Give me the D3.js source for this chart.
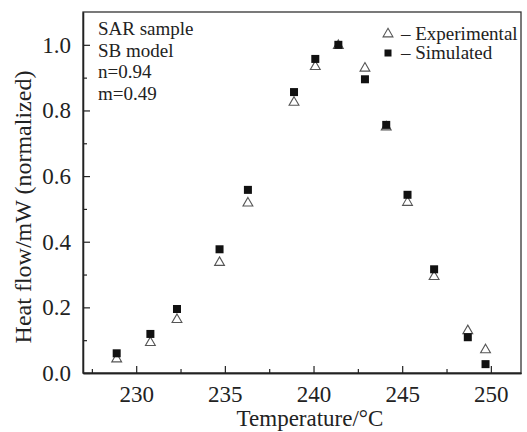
<!DOCTYPE html>
<html>
<head>
<meta charset="utf-8">
<script src="https://cdn.jsdelivr.net/npm/d3@7"></script>
<style>
  body { margin: 0; background: #fff; }
  svg text { font-family: "Liberation Serif", "DejaVu Serif", serif; fill: #222; }
</style>
</head>
<body>
<script>
// temperatures (shared by both series)
const temps = [228.9, 230.8, 232.3, 234.7, 236.3, 238.9, 240.1, 241.4, 242.9, 244.1, 245.3, 246.8, 248.7, 249.7];
const experimental = [0.045, 0.095, 0.165, 0.339, 0.52, 0.827, 0.936, 1.0, 0.931, 0.752, 0.522, 0.296, 0.131, 0.073];
const simulated = [0.060, 0.119, 0.195, 0.377, 0.558, 0.856, 0.957, 1.0, 0.895, 0.756, 0.543, 0.316, 0.109, 0.027];

const xTicks = [230, 235, 240, 245, 250];
const xMinor = [227.5, 232.5, 237.5, 242.5, 247.5];
const yTicks = [0, 0.2, 0.4, 0.6, 0.8, 1.0];
const yMinor = [0.1, 0.3, 0.5, 0.7, 0.9];
const notes = ["SAR sample", "SB model", "n=0.94", "m=0.49"];

const W = 527, H = 432;
const margin = {top: 12, right: 6, bottom: 59, left: 83};
const width = W - margin.left - margin.right,
      height = H - margin.top - margin.bottom;

const svg = d3.select("body").append("svg")
  .attr("width", W)
  .attr("height", H);

const g = svg.append("g")
  .attr("transform", "translate(" + margin.left + "," + margin.top + ")");

const x = d3.scaleLinear().domain([227, 251.7]).range([0, width]);
const y = d3.scaleLinear().domain([0, 1.1]).range([height, 0]);

// frame
g.append("rect")
  .attr("width", width).attr("height", height)
  .attr("fill", "none").attr("stroke", "#333").attr("stroke-width", 1.3);

// x axis (ticks inward)
g.append("g")
  .attr("transform", "translate(0," + height + ")")
  .call(d3.axisBottom(x).tickValues(xTicks).tickFormat(d3.format("d"))
    .tickSizeInner(-7).tickSizeOuter(0).tickPadding(13));
g.append("g")
  .attr("transform", "translate(0," + height + ")")
  .call(d3.axisBottom(x).tickValues(xMinor).tickFormat("")
    .tickSizeInner(-4).tickSizeOuter(0));

g.append("g")
  .call(d3.axisLeft(y).tickValues(yTicks).tickFormat(d3.format(".1f"))
    .tickSizeInner(-7).tickSizeOuter(0).tickPadding(12));
g.append("g")
  .call(d3.axisLeft(y).tickValues(yMinor).tickFormat("")
    .tickSizeInner(-4).tickSizeOuter(0));

g.selectAll(".domain").attr("stroke", "#222").attr("stroke-width", 1.3);
g.selectAll(".tick line").attr("stroke", "#222").attr("stroke-width", 1.2);
g.selectAll(".tick text").attr("font-size", 23);

// axis titles
svg.append("text")
  .attr("x", 310).attr("y", 426)
  .attr("text-anchor", "middle")
  .attr("font-size", 23)
  .text("Temperature/°C");

svg.append("text")
  .attr("transform", "translate(31,207) rotate(-90)")
  .attr("text-anchor", "middle")
  .attr("font-size", 24)
  .text("Heat flow/mW (normalized)");

// experimental: open triangles
const tri = d3.symbol().type(d3.symbolTriangle).size(42);
g.selectAll(".exp")
  .data(temps.map((t, i) => [t, experimental[i]]))
  .enter().append("path")
  .attr("class", "exp")
  .attr("d", tri)
  .attr("transform", d => "translate(" + x(d[0]) + "," + (y(d[1]) + 0.8) + ")")
  .attr("fill", "#fff")
  .attr("stroke", "#555")
  .attr("stroke-width", 1.1);

// simulated: filled squares
const sq = 8;
g.selectAll(".sim")
  .data(temps.map((t, i) => [t, simulated[i]]))
  .enter().append("rect")
  .attr("class", "sim")
  .attr("x", d => x(d[0]) - sq / 2)
  .attr("y", d => y(d[1]) - sq / 2)
  .attr("width", sq).attr("height", sq)
  .attr("fill", "#111");

// annotation
g.selectAll(".note")
  .data(notes)
  .enter().append("text")
  .attr("class", "note")
  .attr("x", 15)
  .attr("y", (d, i) => 23 + i * 21.5)
  .attr("font-size", 19)
  .text(d => d);

// legend
const legend = g.append("g").attr("transform", "translate(305,0)");
legend.append("path")
  .attr("d", tri)
  .attr("transform", "translate(0,22)")
  .attr("fill", "#fff").attr("stroke", "#555").attr("stroke-width", 1.1);
legend.append("rect")
  .attr("x", -3.5).attr("y", 37.5).attr("width", 7).attr("height", 7)
  .attr("fill", "#111");
legend.append("text").attr("x", 13).attr("y", 28)
  .attr("font-size", 19).text("– Experimental");
legend.append("text").attr("x", 13).attr("y", 47)
  .attr("font-size", 19).text("– Simulated");

// force serif everywhere (axis groups set their own font-family)
svg.selectAll("text").attr("font-family", "Liberation Serif, serif");
</script>
</body>
</html>
